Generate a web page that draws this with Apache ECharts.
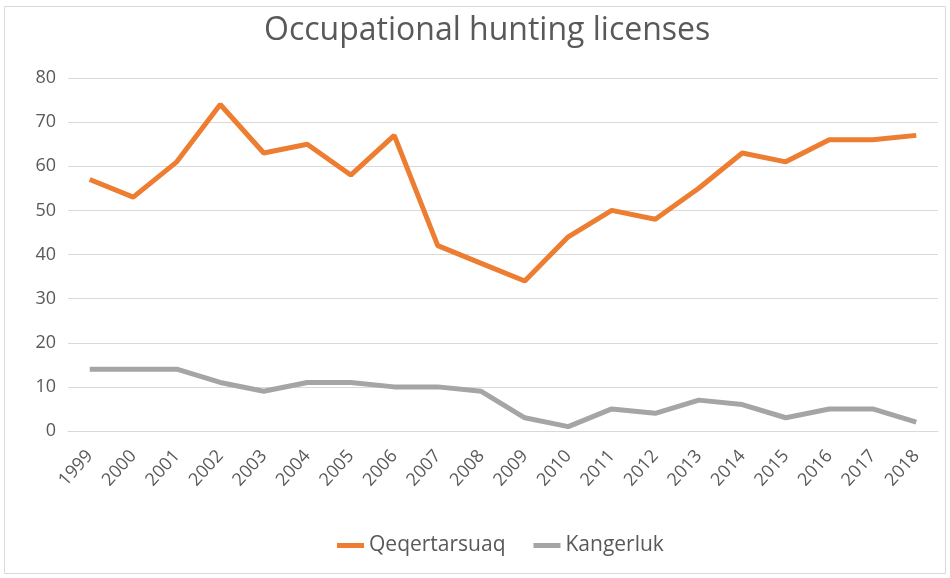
<!DOCTYPE html>
<html>
<head>
<meta charset="utf-8">
<script src="https://cdn.jsdelivr.net/npm/echarts@6/dist/echarts.min.js"></script>
<style>
  html, body { margin: 0; padding: 0; background: #fff; }
  #chart { width: 950px; height: 578px; }
</style>
</head>
<body>
<div id="chart"></div>
<script>
const years = ['1999', '2000', '2001', '2002', '2003', '2004', '2005', '2006', '2007', '2008',
  '2009', '2010', '2011', '2012', '2013', '2014', '2015', '2016', '2017', '2018']
const qeqertarsuaq = [57, 53, 61, 74, 63, 65, 58, 67, 42, 38, 34, 44, 50, 48, 55, 63, 61, 66, 66, 67]
const kangerluk = [14, 14, 14, 11, 9, 11, 11, 10, 10, 9, 3, 1, 5, 4, 7, 6, 3, 5, 5, 2]

const textColor = '#595959'
const fontFamily = '"Open Sans", "Noto Sans", sans-serif'

const chart = echarts.init(document.getElementById('chart'))
chart.setOption({
  animation: false,
  textStyle: { fontFamily },
  graphic: [
    {
      type: 'rect',
      shape: { x: 4.5, y: 6.5, width: 941, height: 567 },
      style: { fill: 'none', stroke: '#d9d9d9', lineWidth: 1 },
      silent: true,
    },
  ],
  title: {
    text: 'Occupational hunting licenses',
    left: 259,
    top: 10,
    textStyle: { color: textColor, fontSize: 32, fontWeight: 'normal', fontFamily },
  },
  grid: { left: 68, right: 12, top: 78, bottom: 147, containLabel: false },
  legend: {
    bottom: 17,
    left: 332,
    itemWidth: 27,
    itemHeight: 5,
    itemGap: 28,
    icon: 'rect',
    textStyle: { color: textColor, fontSize: 21, fontFamily },
    data: ['Qeqertarsuaq', 'Kangerluk'],
  },
  xAxis: {
    type: 'category',
    data: years,
    boundaryGap: true,
    axisTick: { show: false },
    axisLine: { lineStyle: { color: '#d9d9d9', width: 1 } },
    axisLabel: { rotate: 48, interval: 0, color: textColor, fontSize: 18, margin: 22 },
  },
  yAxis: {
    type: 'value',
    min: 0,
    max: 80,
    interval: 10,
    axisLine: { show: false },
    axisTick: { show: false },
    splitLine: { lineStyle: { color: '#d9d9d9', width: 1 } },
    axisLabel: { color: textColor, fontSize: 18, margin: 12 },
  },
  series: [
    {
      name: 'Qeqertarsuaq',
      type: 'line',
      data: qeqertarsuaq,
      showSymbol: false,
      symbol: 'none',
      lineStyle: { color: '#ED7D31', width: 5 },
      itemStyle: { color: '#ED7D31' },
    },
    {
      name: 'Kangerluk',
      type: 'line',
      data: kangerluk,
      showSymbol: false,
      symbol: 'none',
      lineStyle: { color: '#A5A5A5', width: 5 },
      itemStyle: { color: '#A5A5A5' },
    },
  ],
})
</script>
</body>
</html>
